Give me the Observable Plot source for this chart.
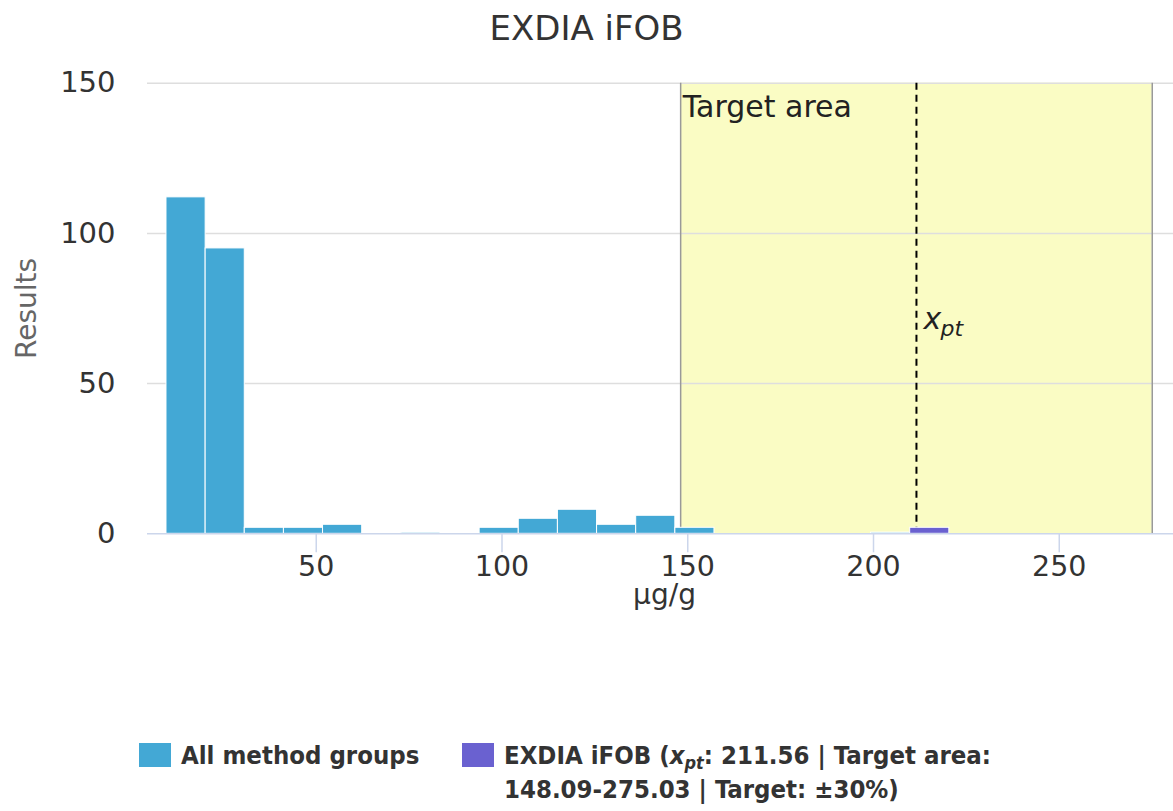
<!DOCTYPE html>
<html><head><meta charset="utf-8">
<script src="https://cdn.jsdelivr.net/npm/d3@7"></script>
<script src="https://cdn.jsdelivr.net/npm/@observablehq/plot@0.6"></script>
<style>
html,body{margin:0;padding:0;background:#fff;overflow:hidden;}
#wrap{position:relative;width:1173px;height:811px;font-family:"DejaVu Sans",sans-serif;}
#title{height:56px;line-height:56px;text-align:center;font-size:34px;color:#333;}
.leg{position:absolute;top:738px;font-family:"DejaVu Sans Condensed","DejaVu Sans",sans-serif;font-stretch:condensed;font-weight:bold;font-size:25.5px;line-height:34px;color:#333;display:flex;align-items:flex-start;white-space:nowrap;}
.sw{width:32px;height:24px;margin-top:5px;margin-right:10px;flex:none;}
.leg sub{font-size:18px;line-height:0;vertical-align:-5px;}
</style></head>
<body><div id="wrap"><div id="title"></div><div id="chart"></div><div id="legend"></div></div>
<script>
// ---- data ----
const title = "EXDIA iFOB";
const xLabel = "μg/g";
const yLabel = "Results";
const targetLabel = "Target area";
const seriesNames = ["All method groups", "EXDIA iFOB"];
const seriesColors = ["#43a8d5", "#6a61d0"];
// All method groups histogram bins (μg/g) and counts
const allLow    = [9.69, 20.23, 30.76, 41.30, 51.83, 72.91, 93.98, 104.51, 115.05, 125.59, 136.12, 146.66, 199.34];
const allHigh   = [20.23, 30.76, 41.30, 51.83, 62.37, 83.44, 104.51, 115.05, 125.59, 136.12, 146.66, 157.19, 209.87];
const allCounts = [112, 95, 2, 2, 3, 0.4, 2, 5, 8, 3, 6, 2, 0.4];
// EXDIA iFOB histogram bins and counts
const labLow    = [209.87];
const labHigh   = [220.41];
const labCounts = [2];
// target
const xpt = 211.56;
const targetLow = 148.09;
const targetHigh = 275.03;
const targetPct = 30;
// axes
const xTicks = [50, 100, 150, 200, 250];
const yTicks = [0, 50, 100, 150];
const xDomain = [4.58, 280.75];
const yDomain = [0, 150];
const xptLabelY = 71.5;

// ---- build ----
document.getElementById("title").textContent = title;
const allBars = allCounts.map((c, i) => ({x1: allLow[i], x2: allHigh[i], y: c}));
const labBars = labCounts.map((c, i) => ({x1: labLow[i], x2: labHigh[i], y: c}));

const plot = Plot.plot({
  width: 1173, height: 600,
  marginLeft: 147, marginRight: 0, marginTop: 26.7, marginBottom: 122.7,
  style: {fontFamily: "DejaVu Sans, sans-serif", fontSize: "29px", color: "#333", background: "transparent", overflow: "visible"},
  x: {domain: xDomain},
  y: {domain: yDomain},
  marks: [
    Plot.rect([{lo: targetLow, hi: targetHigh}], {x1: "lo", x2: "hi", fill: "#fafcc4"}),
    Plot.gridY(yTicks.filter(t => t > 0), {stroke: "#dedede", strokeOpacity: 1, strokeWidth: 1.5}),
    Plot.ruleX([targetLow, targetHigh], {stroke: "#999", strokeWidth: 1.5}),
    Plot.ruleX([xpt], {stroke: "#000", strokeWidth: 2, strokeDasharray: "7,5"}),
    Plot.rect(allBars, {x1: "x1", x2: "x2", y1: () => 0, y2: "y", fill: seriesColors[0], stroke: "#fff", strokeWidth: 1}),
    Plot.rect(labBars, {x1: "x1", x2: "x2", y1: () => 0, y2: "y", fill: seriesColors[1], stroke: "#fff", strokeWidth: 1}),
    Plot.ruleY([0], {stroke: "#ccd6eb", strokeWidth: 1.5}),
    Plot.axisX(xTicks, {tickSize: 19, tickPadding: 3, stroke: "#ccd6eb", strokeWidth: 1.5, label: null, fontSize: 28.5, fill: "#333"}),
    Plot.axisY(yTicks, {tickSize: 0, tickPadding: 32, label: null, fontSize: 29, fill: "#333"}),
    Plot.text([xLabel], {frameAnchor: "bottom", lineAnchor: "bottom", dy: 70, dx: 4, fontSize: 28, fill: "#333"}),
    Plot.text([yLabel], {frameAnchor: "left", rotate: -90, dx: -120.5, fontSize: 28, fill: "#666", textAnchor: "middle", lineAnchor: "middle"}),
    Plot.text([targetLow], {x: d => d, frameAnchor: "top", text: () => targetLabel, textAnchor: "start", lineAnchor: "bottom", dy: 34, dx: 2, fontSize: 30, fill: "#222"}),
    Plot.text([xpt], {x: d => d, y: () => xptLabelY, text: () => "x", fontStyle: "italic", fontSize: 30, textAnchor: "start", lineAnchor: "middle", dx: 7, fill: "#222"}),
    Plot.text([xpt], {x: d => d, y: () => xptLabelY, text: () => "pt", fontStyle: "italic", fontSize: 22, textAnchor: "start", lineAnchor: "middle", dx: 24, dy: 9.6, fill: "#222"})
  ]
});
document.getElementById("chart").appendChild(plot);

// ---- legend ----
const legend = document.getElementById("legend");
const items = [
  {left: 139, color: seriesColors[0], html: seriesNames[0]},
  {left: 462, color: seriesColors[1], html: `${seriesNames[1]} (<i>x<sub>pt</sub></i>: ${xpt.toFixed(2)} | Target area:<br>${targetLow.toFixed(2)}-${targetHigh.toFixed(2)} | Target: ±${targetPct}%)`}
];
for (const it of items) {
  const d = document.createElement("div");
  d.className = "leg";
  d.style.left = it.left + "px";
  d.innerHTML = `<span class="sw" style="background:${it.color}"></span><span>${it.html}</span>`;
  legend.appendChild(d);
}
</script>
</body></html>
